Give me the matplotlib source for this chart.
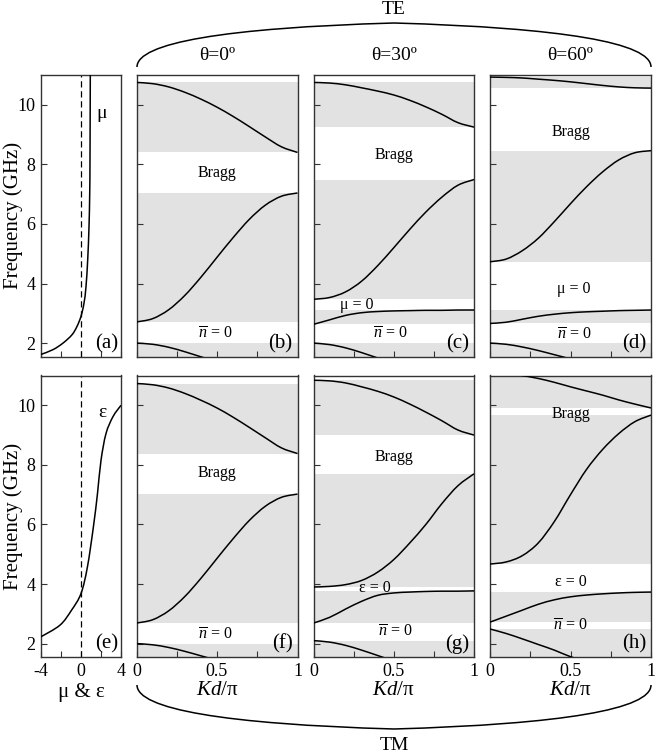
import matplotlib
matplotlib.use('Agg')
import matplotlib.pyplot as plt
from matplotlib.path import Path
from matplotlib.patches import PathPatch

plt.rcParams['font.family'] = ['Liberation Serif', 'DejaVu Serif']
plt.rcParams['mathtext.fontset'] = 'custom'
plt.rcParams['mathtext.rm'] = 'Liberation Serif'
plt.rcParams['mathtext.it'] = 'Liberation Serif:italic'

# ---- data ----
kd = [0.0, 0.1, 0.2, 0.3, 0.4, 0.5, 0.6, 0.7, 0.8, 0.9, 1.0]
kd_low = [0.0, 0.1, 0.2, 0.3, 0.4, 0.5, 0.6]

# (a) mu dispersion, (e) eps dispersion
mu_vals = [-4.0, -2.8, -1.8, -0.9, -0.4, 0.0, 0.3, 0.5, 0.67, 0.8, 0.87, 0.9, 0.93]
mu_freq = [1.62, 1.78, 2.0, 2.28, 2.56, 2.9, 3.34, 3.9, 4.8, 5.9, 7.0, 8.2, 11.0]
eps_vals = [-4.0, -2.1, -0.95, 0.0, 0.64, 1.24, 1.65, 2.0, 2.5, 3.2, 4.0]
eps_freq = [2.23, 2.62, 3.12, 3.68, 4.57, 5.92, 7.04, 8.15, 9.05, 9.62, 10.0]

# TE, theta = 0
te0_top = [10.75, 10.71, 10.60, 10.42, 10.19, 9.92, 9.61, 9.27, 8.92, 8.59, 8.40]
te0_mid = [2.71, 2.82, 3.12, 3.60, 4.21, 4.88, 5.54, 6.15, 6.63, 6.93, 7.04]
te0_low = [2.00, 1.96, 1.86, 1.71, 1.54, 1.38, 1.24]

# TE, theta = 30
te30_top = [10.75, 10.73, 10.67, 10.57, 10.46, 10.33, 10.15, 9.93, 9.68, 9.40, 9.25]
te30_mid = [3.47, 3.53, 3.72, 4.08, 4.60, 5.20, 5.82, 6.40, 6.90, 7.30, 7.49]
te30_flat = [2.63, 2.78, 2.93, 3.02, 3.06, 3.08, 3.09, 3.10, 3.10, 3.11, 3.11]
te30_low = [2.00, 1.95, 1.84, 1.68, 1.50, 1.33, 1.18]

# TE, theta = 60
te60_top = [10.93, 10.92, 10.90, 10.86, 10.82, 10.77, 10.71, 10.65, 10.60, 10.57, 10.56]
te60_mid = [4.73, 4.82, 5.10, 5.52, 6.08, 6.68, 7.25, 7.75, 8.15, 8.39, 8.46]
te60_flat = [2.66, 2.70, 2.80, 2.90, 2.97, 3.02, 3.05, 3.07, 3.09, 3.10, 3.11]
te60_low = [2.00, 1.96, 1.87, 1.75, 1.61, 1.47, 1.33]

# TM, theta = 0
tm0_top = [10.73, 10.69, 10.58, 10.40, 10.17, 9.91, 9.60, 9.26, 8.91, 8.57, 8.38]
tm0_mid = [2.69, 2.80, 3.10, 3.58, 4.19, 4.86, 5.52, 6.13, 6.61, 6.91, 7.02]
tm0_low = [2.00, 1.96, 1.87, 1.74, 1.59, 1.44, 1.30]

# TM, theta = 30
tm30_top = [10.84, 10.82, 10.75, 10.62, 10.47, 10.28, 10.04, 9.77, 9.48, 9.17, 9.00]
tm30_mid = [3.90, 3.92, 3.98, 4.12, 4.40, 4.82, 5.38, 6.00, 6.70, 7.30, 7.70]
tm30_flat = [2.69, 2.88, 3.16, 3.42, 3.62, 3.70, 3.73, 3.75, 3.76, 3.76, 3.77]
tm30_low = [2.10, 2.05, 1.94, 1.78, 1.60, 1.42, 1.26]

# TM, theta = 60
tm60_top = [11.12, 11.09, 11.00, 10.90, 10.77, 10.62, 10.48, 10.34, 10.18, 10.04, 9.91]
tm60_mid = [4.67, 4.74, 4.95, 5.38, 6.10, 7.00, 7.85, 8.52, 9.05, 9.45, 9.67]
tm60_flat = [2.72, 2.92, 3.12, 3.32, 3.47, 3.57, 3.63, 3.67, 3.70, 3.72, 3.73]
tm60_low = [2.49, 2.34, 2.16, 1.97, 1.78, 1.56, 1.40]

angles = ['θ=0º', 'θ=30º', 'θ=60º']
letters = ['(a)', '(b)', '(c)', '(d)', '(e)', '(f)', '(g)', '(h)']
freq_ticks = [2, 4, 6, 8, 10]

# label positions (Kd/pi, GHz)
bragg_pos = [(0.5, 7.70), (0.5, 8.30), (0.5, 9.10), (0.5, 7.72), (0.5, 8.28), (0.5, 9.72)]
nbar_pos = [(0.49, 2.26), (0.48, 2.28), (0.52, 2.25), (0.49, 2.26), (0.51, 2.37), (0.5, 2.55)]
zero_text = [None, ('μ = 0', 0.27, 3.29), ('μ = 0', 0.52, 3.80),
             None, ('ε = 0', 0.385, 3.85), ('ε = 0', 0.5, 4.08)]

YMIN, YMAX = 1.55, 11.0
GRAY = '#e2e2e2'
W, H = 655, 755

fig = plt.figure(figsize=(W / 100, H / 100), dpi=100)

cols = [(41, 121), (136.5, 297.5), (313.5, 474), (490, 651)]
rows = [(75, 356.5), (375.5, 657)]


def px_axes(xs, ys):
    return fig.add_axes([xs[0] / W, 1 - ys[1] / H, (xs[1] - xs[0]) / W, (ys[1] - ys[0]) / H])


def style(ax):
    for s in ax.spines.values():
        s.set_color('#333333')
        s.set_linewidth(1.0)
    ax.tick_params(direction='in', length=4, width=0.8, labelsize=13, pad=4,
                   top=False, right=False, color='#333333')
    ax.set_ylim(YMIN, YMAX)
    ax.set_yticks(freq_ticks)


def curve(ax, x, y):
    # smooth line through the read points (Catmull-Rom as cubic Bezier)
    pts = list(zip(x, y))
    verts, codes = [pts[0]], [Path.MOVETO]
    for i in range(len(pts) - 1):
        p0 = pts[i - 1] if i > 0 else pts[i]
        p1, p2 = pts[i], pts[i + 1]
        p3 = pts[i + 2] if i + 2 < len(pts) else pts[i + 1]
        c1 = (p1[0] + (p2[0] - p0[0]) / 6, p1[1] + (p2[1] - p0[1]) / 6)
        c2 = (p2[0] - (p3[0] - p1[0]) / 6, p2[1] - (p3[1] - p1[1]) / 6)
        verts += [c1, c2, p2]
        codes += [Path.CURVE4] * 3
    ax.add_patch(PathPatch(Path(verts, codes), fill=False, lw=1.1, edgecolor='black', zorder=3))


band_sets = [
    (te0_top, te0_mid, None, te0_low),
    (te30_top, te30_mid, te30_flat, te30_low),
    (te60_top, te60_mid, te60_flat, te60_low),
    (tm0_top, tm0_mid, None, tm0_low),
    (tm30_top, tm30_mid, tm30_flat, tm30_low),
    (tm60_top, tm60_mid, tm60_flat, tm60_low),
]

for r, row in enumerate(rows):
    # medium panel (a)/(e)
    ax = px_axes(cols[0], row)
    style(ax)
    ax.set_xlim(-4, 4)
    if r == 0:
        curve(ax, mu_vals, mu_freq)
        ax.text(2.1, 9.7, 'μ', fontsize=14, ha='center', va='center')
    else:
        curve(ax, eps_vals, eps_freq)
        ax.text(2.1, 9.75, 'ε', fontsize=14, ha='center', va='center')
    ax.axvline(0, color='black', lw=0.9, ls=(0, (5, 3)))
    ax.set_xticks([-4, -2, 0, 2, 4])
    ax.set_xticklabels(['-4', '', '0', '', '4'] if r == 1 else [])
    ax.set_yticklabels([str(t) for t in freq_ticks])
    ax.text(0.96, 0.012, letters[4 * r], transform=ax.transAxes, fontsize=15,
            ha='right', va='bottom')
    fig.text(13 / W, 1 - (row[0] + row[1]) / 2 / H, 'Frequency (GHz)', fontsize=15,
             rotation=90, ha='center', va='center')

    for c in range(3):
        i = 3 * r + c
        top, mid, flat, low = band_sets[i]
        ax = px_axes(cols[c + 1], row)
        style(ax)
        ax.set_xlim(0, 1)
        # allowed bands shaded between the extrema of each band
        ax.axhspan(min(top), max(top), color=GRAY, lw=0, zorder=0)
        ax.axhspan(min(mid), max(mid), color=GRAY, lw=0, zorder=0)
        if flat is not None:
            ax.axhspan(min(flat), max(flat), color=GRAY, lw=0, zorder=0)
        ax.axhspan(YMIN - 1, max(low), color=GRAY, lw=0, zorder=0)
        curve(ax, kd, top)
        curve(ax, kd, mid)
        if flat is not None:
            curve(ax, kd, flat)
        curve(ax, kd_low, low)

        ax.text(*bragg_pos[i], 'Bragg', fontsize=11.5, ha='center', va='center')
        ax.text(*nbar_pos[i], r'$\overline{n}$ = 0', fontsize=11.5, ha='center', va='center')
        if zero_text[i] is not None:
            s, xx, yy = zero_text[i]
            ax.text(xx, yy, s, fontsize=11.5, ha='center', va='center')

        ax.set_xticks([0, 0.25, 0.5, 0.75, 1])
        ax.set_xticklabels(['0', '', '0.5', '', '1'] if r == 1 else [])
        ax.set_yticklabels([])
        ax.text(0.97, 0.012, letters[4 * r + c + 1], transform=ax.transAxes,
                fontsize=15, ha='right', va='bottom')
        if r == 0:
            ax.set_title(angles[c], fontsize=14, pad=11)
        else:
            ax.set_xlabel(r'$Kd$/π', fontsize=15, labelpad=1)

fig.text(81 / W, 1 - 693 / H, 'μ & ε', fontsize=15, ha='center', va='center')


# braces grouping the TE and TM rows
def brace(y_end, y_mid):
    verts = [(137, y_end), (137, y_end + (y_mid - y_end) * 0.55), (225, y_mid - (y_mid - y_end) * 0.11),
             (394, y_mid), (563, y_mid - (y_mid - y_end) * 0.11), (651, y_end + (y_mid - y_end) * 0.55),
             (651, y_end)]
    verts = [(x / W, 1 - y / H) for x, y in verts]
    codes = [Path.MOVETO] + [Path.CURVE4] * 6
    fig.add_artist(PathPatch(Path(verts, codes), fill=False, lw=1.1, color='black',
                             transform=fig.transFigure))


brace(67, 23)
brace(685, 729)
fig.text(394 / W, 1 - 10 / H, 'TE', fontsize=14, ha='center', va='center')
fig.text(394 / W, 1 - 745 / H, 'TM', fontsize=14, ha='center', va='center')

fig.savefig('out.png', dpi=100)
